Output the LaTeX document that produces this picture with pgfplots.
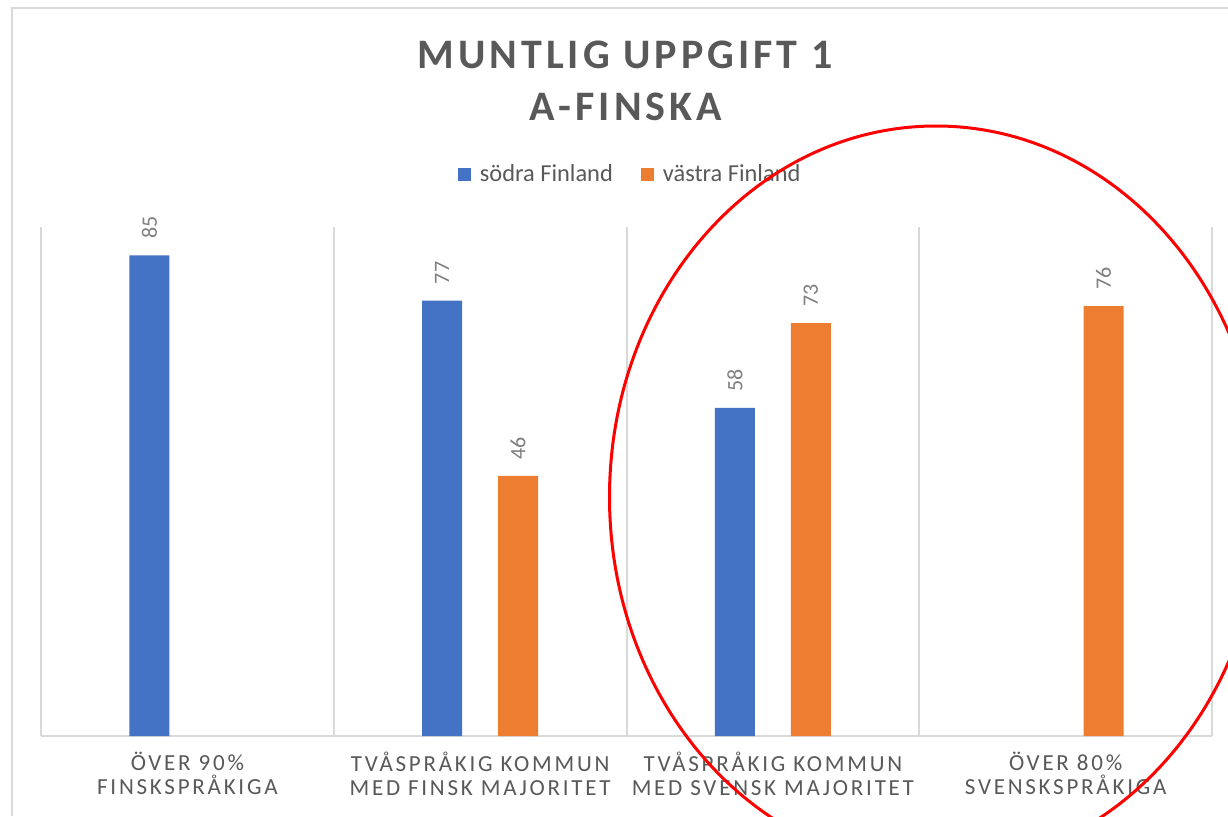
\documentclass[border=0pt]{standalone}
\usepackage{fontspec}
\setmainfont{Carlito}
\newfontfamily\titlefont[LetterSpace=9.5]{Carlito}
\newfontfamily\catfont[LetterSpace=12]{Carlito}
\usepackage{pgfplots}
\pgfplotsset{compat=1.18}
\definecolor{xblue}{HTML}{4472C4}
\definecolor{xorange}{HTML}{ED7D31}
\definecolor{txt}{HTML}{595959}
\definecolor{lbl}{HTML}{7F7F7F}
\definecolor{grd}{HTML}{D9D9D9}
\pgfplotsset{sq/.style={legend image code/.code={\fill[##1] (0pt,-3.25pt) rectangle (6.5pt,3.25pt); \path (9pt,0pt);}}}
\begin{document}
\begin{tikzpicture}
\useasboundingbox (0pt,0pt) rectangle (614pt,408pt);
\fill[white] (0pt,0pt) rectangle (614pt,408pt);
\draw[grd, line width=1pt] (6pt,0pt) -- (6pt,404pt) -- (614pt,404pt);
\node[anchor=base, text=txt, font=\titlefont\bfseries\fontsize{21}{25}\selectfont] at (312.5pt,373.5pt) {MUNTLIG UPPGIFT 1};
\node[anchor=base, text=txt, font=\titlefont\bfseries\fontsize{21}{25}\selectfont] at (313pt,347.5pt) {A-FINSKA};
\begin{axis}[
  at={(20.5pt,40pt)}, anchor=south west,
  scale only axis, width=585.5pt, height=254.5pt,
  xmin=-0.5, xmax=3.5, ymin=0, ymax=90,
  ybar=18pt, bar width=20pt,
  hide y axis,
  axis x line*=bottom,
  x axis line style={grd, line width=1pt, -},
  xtick={0,1,2,3},
  xticklabels={{ÖVER 90\%\\FINSKSPRÅKIGA},{TVÅSPRÅKIG KOMMUN\\MED FINSK MAJORITET},{TVÅSPRÅKIG KOMMUN\\MED SVENSK MAJORITET},{ÖVER 80\%\\SVENSKSPRÅKIGA}},
  major tick length=0pt,
  minor xtick={-0.5,0.5,1.5,2.5,3.5},
  minor tick length=0pt,
  xminorgrids, minor grid style={grd, line width=1pt},
  xticklabel style={align=center, font=\catfont\fontsize{11.5}{12}\selectfont, text=txt, inner sep=0pt, yshift=-8pt},
  /pgf/number format/assume math mode=true,
  nodes near coords,
  nodes near coords style={rotate=90, anchor=west, inner xsep=8pt, inner ysep=0pt, font=\fontsize{11}{13}\selectfont, text=lbl},
  legend columns=2,
  legend style={at={(0.504,1.104)}, anchor=center, draw=none, fill=none, font=\fontsize{12.2}{14}\selectfont, text=txt, /tikz/every even column/.append style={column sep=12pt}},
]
\addplot[fill=xblue, draw=none, sq] coordinates {(0,85) (1,77) (2,58)};
\addplot[fill=xorange, draw=none, sq] coordinates {(1,46) (2,73) (3,76)};
\legend{södra Finland, västra Finland}
\end{axis}
\begin{scope}
\clip (0pt,0pt) rectangle (614pt,408pt);
\draw[red, line width=1.5pt] (468pt,159.5pt) ellipse [x radius=163.25pt, y radius=185.5pt];
\end{scope}
\end{tikzpicture}
\end{document}
